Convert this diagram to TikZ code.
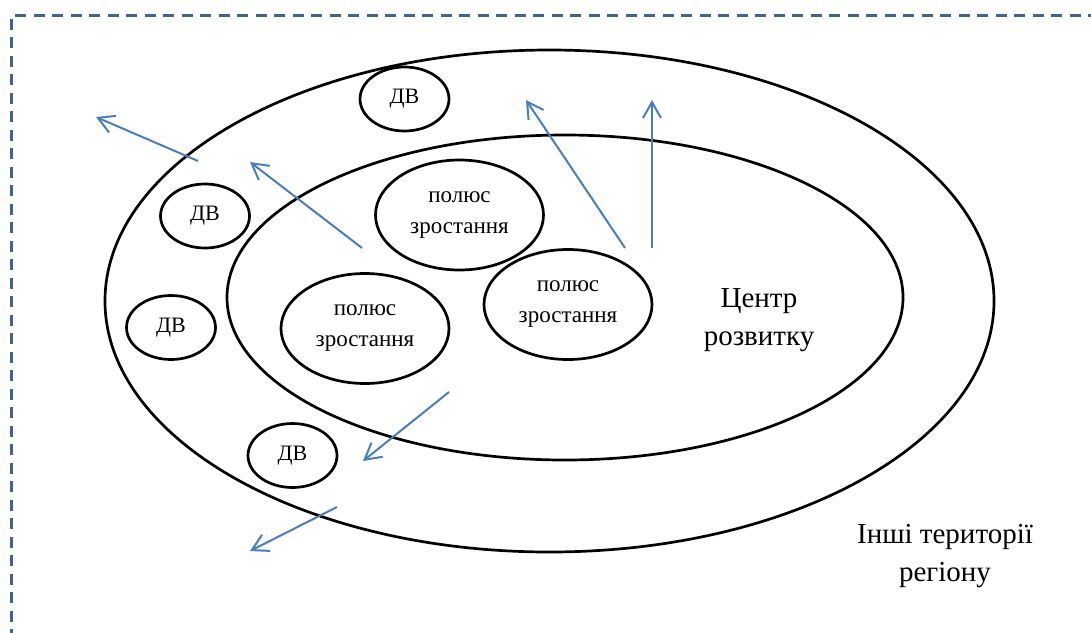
\documentclass[tikz,border=0pt]{standalone}
\usepackage{fontspec}
\setmainfont{Liberation Serif}
\usetikzlibrary{arrows.meta,shapes.geometric}
\definecolor{FlowBlue}{HTML}{4A7EBB}
\definecolor{FrameBlue}{HTML}{3F6494}
\tikzset{
  zone/.style={ellipse, draw=black, line width=2.7pt, inner sep=0pt},
  pole/.style={zone, minimum width=168pt, minimum height=110pt, align=center, font=\fontsize{23}{31}\selectfont},
  dvbox/.style={zone, minimum width=89pt, minimum height=64pt, font=\fontsize{22}{26}\selectfont},
  flow/.style={-{Straight Barb[length=16pt,width=18pt]}, FlowBlue, line width=2pt},
  biglabel/.style={align=center, inner sep=0pt, font=\fontsize{29}{38}\selectfont},
}

\begin{document}
\begin{tikzpicture}[x=1pt, y=-1pt]
    \useasboundingbox (0,0) rectangle (1091,632);
    % frame of the region
    \draw[FrameBlue, line width=3pt, dash pattern=on 11pt off 7.5pt] (11,640) -- (11,15) -- (1100,15);
    % zones
    \node[zone, minimum width=889pt, minimum height=502pt] (Region) at (549.5,301) {};
    \node[zone, minimum width=676pt, minimum height=325pt] (Centre) at (565,297.5) {};
    % growth poles
    \node[pole] (P1) at (459.5,215) {полюс\\зростання};
    \node[pole] (P2) at (365,328.5) {полюс\\зростання};
    \node[pole] (P3) at (568,304.5) {полюс\\зростання};
    % small areas
    \node[dvbox] (D1) at (404.5,99) {ДВ};
    \node[dvbox] (D2) at (205,216) {ДВ};
    \node[dvbox] (D3) at (171,327.5) {ДВ};
    \node[dvbox] (D4) at (292.5,455.5) {ДВ};
    % labels
    \node[biglabel] (LCentre) at (759,320) {Центр\\розвитку};
    \node[biglabel] (LOther) at (945,556) {Інші території\\регіону};
    % flows
    \coordinate (A1s) at (198,161);  \coordinate (A1e) at (96,117);
    \coordinate (A2s) at (362,248);  \coordinate (A2e) at (250,162);
    \coordinate (A3s) at (625,248);  \coordinate (A3e) at (526,100);
    \coordinate (A4s) at (652,248);  \coordinate (A4e) at (652,100);
    \coordinate (A5s) at (449,392);  \coordinate (A5e) at (363,461);
    \coordinate (A6s) at (337,507);  \coordinate (A6e) at (250,551);
    \foreach \k in {1,...,6}
      \draw[flow] (A\k s) -- (A\k e);
\end{tikzpicture}
\end{document}
